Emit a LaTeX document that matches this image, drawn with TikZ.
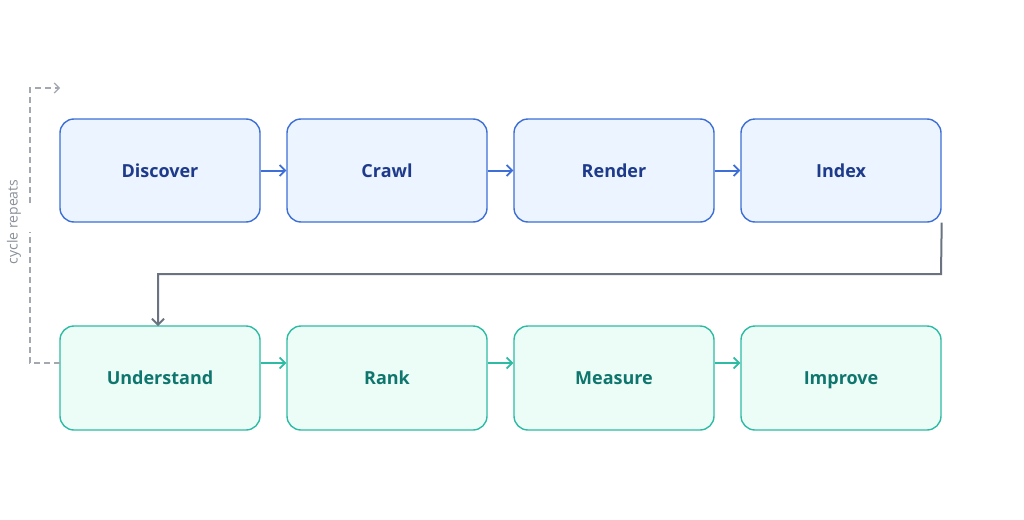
\documentclass[tikz,border=0pt]{standalone}
\usepackage{fontspec}
\setmainfont{Open Sans}
\usetikzlibrary{arrows.meta}
\definecolor{tfill}{HTML}{EBF4FF}
\definecolor{tdraw}{HTML}{3D6FD6}
\definecolor{ttext}{HTML}{1E3A8A}
\definecolor{bfill}{HTML}{ECFDF8}
\definecolor{bdraw}{HTML}{2EBBA3}
\definecolor{btext}{HTML}{0F766E}
\definecolor{gline}{HTML}{6B7280}
\definecolor{dline}{HTML}{A3A8B0}
\definecolor{ltext}{HTML}{8A9099}
\tikzset{
  boxbase/.style={line width=1.4pt, rounded corners=14pt, minimum width=200pt,
    text height=17pt, text depth=4pt, font=\bfseries\fontsize{18}{22}\selectfont},
  topbox/.style={boxbase, draw=tdraw, fill=tfill, minimum height=103pt, text=ttext},
  botbox/.style={boxbase, draw=bdraw, fill=bfill, minimum height=104pt, text=btext},
  toparrow/.style={draw=tdraw, line width=2pt, -{Straight Barb[length=5.5pt,width=11pt,line width=1.8pt]}},
  botarrow/.style={draw=bdraw, line width=2pt, -{Straight Barb[length=5.5pt,width=11pt,line width=1.8pt]}},
  grayarrow/.style={draw=gline, line width=2pt, -{Straight Barb[length=6pt,width=12pt,line width=1.8pt]}},
  loopline/.style={draw=dline, line width=1.3pt, dash pattern=on 6pt off 4pt},
}
\begin{document}
\begin{tikzpicture}[x=1pt,y=-1pt]
\useasboundingbox (0,0) rectangle (1024,519);
\fill[white] (0,0) rectangle (1024,519);
% top row
\node[topbox] (discover) at (160,170.5) {Discover};
\node[topbox] (crawl) at (387,170.5) {Crawl};
\node[topbox] (render) at (614,170.5) {Render};
\node[topbox] (index) at (841,170.5) {Index};
% bottom row
\node[botbox] (understand) at (160,378) {Understand};
\node[botbox] (rank) at (387,378) {Rank};
\node[botbox] (measure) at (614,378) {Measure};
\node[botbox] (improve) at (841,378) {Improve};
% top arrows
\draw[toparrow] (discover.east) -- (crawl.west);
\draw[toparrow] (crawl.east) -- (render.west);
\draw[toparrow] (render.east) -- (index.west);
% bottom arrows
\coordinate (by) at (0,363);
\draw[botarrow] (understand.east |- by) -- (rank.west |- by);
\draw[botarrow] (rank.east |- by) -- (measure.west |- by);
\draw[botarrow] (measure.east |- by) -- (improve.west |- by);
% connector index -> understand
\coordinate (c1) at (941,274);
\coordinate (c2) at (158,274);
\coordinate (c3) at (158,326);
\draw[grayarrow] (index.south east) -- (c1) -- (c2) -- (c3);
% cycle repeats loop
\coordinate (l0) at (60,363);
\coordinate (l1) at (30,363);
\coordinate (l2) at (30,232);
\coordinate (l3) at (30,203);
\coordinate (l4) at (30,88);
\coordinate (l5) at (60,88);
\draw[loopline] (l0) -- (l1) -- (l2);
\draw[loopline, -{Straight Barb[length=5pt,width=10pt,line width=1.2pt]}] (l3) -- (l4) -- (l5);
\node[rotate=90, text=ltext, font=\fontsize{14}{16}\selectfont] (lbl) at (14,222) {cycle repeats};
\end{tikzpicture}
\end{document}
